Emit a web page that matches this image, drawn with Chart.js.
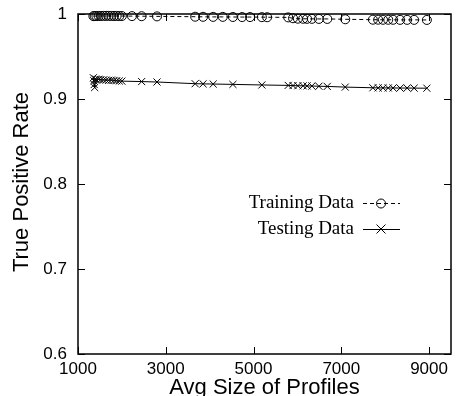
<!DOCTYPE html>
<html><head><meta charset="utf-8">
<script src="https://cdn.jsdelivr.net/npm/chart.js@4/dist/chart.umd.min.js"></script>
<style>html,body{margin:0;padding:0;background:#fff}#wrap{width:458px;height:396px;position:relative}</style>
</head><body><div id="wrap"><canvas id="c" width="458" height="396"></canvas></div>
<script>
const trainX = [1350,1380,1420,1470,1520,1580,1640,1700,1760,1820,1880,1940,2000,2230,2450,2800,3670,3850,4080,4300,4530,4740,4920,5190,5310,5790,5900,6010,6130,6220,6330,6490,6680,7090,7720,7840,7950,8070,8180,8340,8500,8660,8950];
const trainY = [0.9975,0.9976,0.9976,0.9977,0.9977,0.9978,0.9978,0.9978,0.9977,0.9977,0.9977,0.9976,0.9976,0.9975,0.9974,0.9972,0.9968,0.9967,0.9966,0.9966,0.9965,0.9964,0.9964,0.9963,0.9962,0.9960,0.9950,0.9945,0.9944,0.9943,0.9943,0.9942,0.9942,0.9938,0.9933,0.9933,0.9932,0.9932,0.9932,0.9931,0.9931,0.9931,0.9930];
const testX = [1350,1360,1370,1380,1400,1420,1470,1520,1580,1640,1700,1760,1820,1880,1940,2000,2450,2800,3670,3850,4080,4530,5190,5790,5900,6010,6130,6220,6330,6490,6680,7090,7720,7840,7950,8070,8180,8340,8500,8660,8950];
const testY = [0.9250,0.9215,0.9170,0.9135,0.9235,0.9225,0.9232,0.9228,0.9225,0.9222,0.9220,0.9222,0.9218,0.9215,0.9212,0.9210,0.9205,0.9200,0.9180,0.9178,0.9176,0.9172,0.9165,0.9160,0.9158,0.9156,0.9155,0.9154,0.9153,0.9150,0.9148,0.9140,0.9132,0.9131,0.9131,0.9130,0.9130,0.9129,0.9129,0.9128,0.9127];
const xTicks = [1000,3000,5000,7000,9000];
const yTicks = [0.6,0.7,0.8,0.9,1];
const xTitle = 'Avg Size of Profiles';
const yTitle = 'True Positive Rate';
const seriesNames = ['Training Data','Testing Data'];

const sansFont = "'Liberation Sans', Arial, sans-serif";
const serifFont = "'Liberation Serif', 'Times New Roman', serif";

const frame = {
  id: 'frame',
  afterDraw(chart) {
    const ctx = chart.ctx, a = chart.chartArea;
    const xs = chart.scales.x, ys = chart.scales.y;
    ctx.save();
    ctx.strokeStyle = '#000';
    ctx.lineWidth = 1.5;
    ctx.strokeRect(a.left, a.top, a.right - a.left, a.bottom - a.top);
    ctx.lineWidth = 1;
    const tl = 7;
    ctx.beginPath();
    xTicks.forEach(v => {
      const px = Math.round(xs.getPixelForValue(v)) + 0.5;
      ctx.moveTo(px, a.bottom); ctx.lineTo(px, a.bottom - tl);
      ctx.moveTo(px, a.top); ctx.lineTo(px, a.top + tl);
    });
    yTicks.forEach(v => {
      const py = Math.round(ys.getPixelForValue(v)) + 0.5;
      ctx.moveTo(a.left, py); ctx.lineTo(a.left + tl, py);
      ctx.moveTo(a.right, py); ctx.lineTo(a.right - tl, py);
    });
    ctx.stroke();
    // axis titles
    ctx.fillStyle = '#000';
    ctx.font = '22px ' + sansFont;
    ctx.textAlign = 'center';
    ctx.textBaseline = 'middle';
    ctx.fillText(xTitle, (a.left + a.right) / 2, 388);
    ctx.save();
    ctx.translate(22, 182);
    ctx.rotate(-Math.PI / 2);
    ctx.fillText(yTitle, 0, 0);
    ctx.restore();
    // legend
    ctx.font = '19px ' + serifFont;
    ctx.textAlign = 'right';
    const lx = 354, ly = [203, 229];
    const x0 = 363, x1 = 400, xm = 381;
    seriesNames.forEach((n, i) => {
      ctx.fillText(n, lx, ly[i]);
      ctx.beginPath();
      ctx.setLineDash(i === 0 ? [4, 3] : []);
      ctx.moveTo(x0, ly[i] + 0.5); ctx.lineTo(x1, ly[i] + 0.5);
      ctx.stroke();
      ctx.setLineDash([]);
      ctx.beginPath();
      if (i === 0) {
        ctx.arc(xm, ly[i] + 0.5, 4.5, 0, Math.PI * 2);
      } else {
        const r = 4.5;
        ctx.moveTo(xm - r, ly[i] - r); ctx.lineTo(xm + r, ly[i] + r);
        ctx.moveTo(xm + r, ly[i] - r); ctx.lineTo(xm - r, ly[i] + r);
      }
      ctx.stroke();
    });
    ctx.restore();
  }
};

new Chart(document.getElementById('c'), {
  type: 'scatter',
  data: {
    datasets: [
      {
        label: seriesNames[0],
        data: trainX.map((x, i) => ({x, y: trainY[i]})),
        showLine: true,
        borderColor: '#000',
        borderWidth: 1,
        borderDash: [4, 3],
        pointStyle: 'circle',
        pointRadius: 4.5,
        pointBorderWidth: 1,
        pointBorderColor: '#000',
        pointBackgroundColor: 'rgba(0,0,0,0)',
        clip: false
      },
      {
        label: seriesNames[1],
        data: testX.map((x, i) => ({x, y: testY[i]})),
        showLine: true,
        borderColor: '#000',
        borderWidth: 1,
        pointStyle: 'crossRot',
        pointRadius: 5,
        pointBorderWidth: 1,
        pointBorderColor: '#000',
        pointBackgroundColor: 'rgba(0,0,0,0)',
        clip: false
      }
    ]
  },
  options: {
    responsive: false,
    animation: false,
    devicePixelRatio: 1,
    layout: { padding: { top: 14, right: 7, left: 0, bottom: 0 } },
    plugins: { legend: { display: false }, tooltip: { enabled: false } },
    scales: {
      x: {
        type: 'linear', min: 1000, max: 9500,
        afterBuildTicks: s => { s.ticks = xTicks.map(v => ({value: v})); },
        afterFit: s => { s.height = 42; s.paddingLeft = 0; s.paddingRight = 0; s.paddingTop = 0; s.paddingBottom = 0; },
        grid: { display: false, drawTicks: false },
        border: { display: false },
        ticks: { color: '#000', font: { family: sansFont, size: 17 }, padding: 5, maxRotation: 0, autoSkip: false, callback: v => String(v) }
      },
      y: {
        type: 'linear', min: 0.6, max: 1,
        afterBuildTicks: s => { s.ticks = yTicks.map(v => ({value: v})); },
        afterFit: s => { s.width = 78; s.paddingLeft = 0; s.paddingRight = 0; s.paddingTop = 0; s.paddingBottom = 0; },
        grid: { display: false, drawTicks: false },
        border: { display: false },
        ticks: { color: '#000', font: { family: sansFont, size: 17 }, padding: 11, autoSkip: false, callback: v => (v === 1 ? '1' : v.toFixed(1)) }
      }
    }
  },
  plugins: [frame]
});
</script>
</body></html>
